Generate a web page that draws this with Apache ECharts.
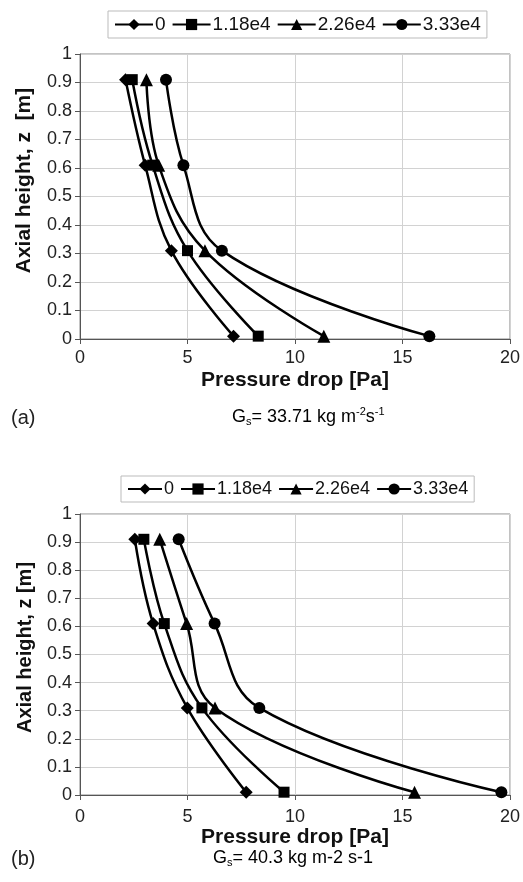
<!DOCTYPE html>
<html><head><meta charset="utf-8">
<script src="https://cdn.jsdelivr.net/npm/echarts@6/dist/echarts.min.js"></script>
<style>html,body{margin:0;padding:0;background:#fff}#c{width:523px;height:882px}</style>
</head><body><div id="c"></div>
<script>
// ---- data ----
const seriesNames = ['0', '1.18e4', '2.26e4', '3.33e4'];
const symbols = ['diamond', 'rect', 'triangle', 'circle'];
const zLevels = [0.01, 0.31, 0.61, 0.91];
// panel (a) Gs = 33.71
const a_0    = [7.14, 4.25, 3.03, 2.12];
const a_118  = [8.29, 5.00, 3.38, 2.43];
const a_226  = [11.34, 5.81, 3.66, 3.09];
const a_333  = [16.25, 6.60, 4.81, 4.00];
// panel (b) Gs = 40.3
const b_0    = [7.73, 4.99, 3.40, 2.55];
const b_118  = [9.49, 5.67, 3.92, 2.97];
const b_226  = [15.56, 6.28, 4.96, 3.71];
const b_333  = [19.60, 8.34, 6.26, 4.59];
const xTicks = [0, 5, 10, 15, 20];
const yTicks = [0, 0.1, 0.2, 0.3, 0.4, 0.5, 0.6, 0.7, 0.8, 0.9, 1];

const panelA = [a_0, a_118, a_226, a_333];
const panelB = [b_0, b_118, b_226, b_333];

const FONT = 'Liberation Sans';
const chart = echarts.init(document.getElementById('c'), null, {renderer: 'canvas'});
const symSize = {diamond: 13, rect: 11, triangle: 13, circle: 12};

function mkSeries(panel, idx) {
  return panel.map((vals, i) => ({
    name: seriesNames[i],
    type: 'line',
    xAxisIndex: idx, yAxisIndex: idx,
    smooth: 0.4,
    symbol: symbols[i],
    symbolSize: symSize[symbols[i]],
    lineStyle: {color: '#000', width: 2.5},
    itemStyle: {color: '#000'},
    data: vals.map((v, k) => [v, zLevels[k]])
  }));
}

function mkX(idx) {
  return {
    type: 'value', gridIndex: idx, min: xTicks[0], max: xTicks[xTicks.length - 1], interval: 5,
    name: 'Pressure drop [Pa]', nameLocation: 'middle', nameGap: 31,
    nameTextStyle: {fontFamily: FONT, fontSize: 21, fontWeight: 'bold', color: '#111'},
    axisLine: {show: true, lineStyle: {color: '#555', width: 1}},
    axisTick: {show: true, inside: false, length: 5, lineStyle: {color: '#555'}},
    axisLabel: {fontFamily: FONT, fontSize: 18, color: '#222', margin: idx === 0 ? 10 : 13},
    splitLine: {show: true, lineStyle: {color: '#d2d2d2', width: 1}}
  };
}
function mkY(idx, name, size, shift) {
  return {
    type: 'value', gridIndex: idx, min: 0, max: 1, interval: 0.1,
    name: name, nameLocation: 'middle', nameGap: 45, nameRotate: 90,
    nameTextStyle: {fontFamily: FONT, fontSize: size, fontWeight: 'bold', color: '#111',
      padding: [0, 0, 0, shift]},
    axisLine: {show: true, lineStyle: {color: '#555', width: 1}},
    axisTick: {show: true, inside: false, length: 5, lineStyle: {color: '#555'}},
    axisLabel: {fontFamily: FONT, fontSize: 18, color: '#222', margin: 8,
      formatter: v => String(+v.toFixed(1))},
    splitLine: {show: true, lineStyle: {color: '#d2d2d2', width: 1}}
  };
}
function mkLegend(left, top, fs, w) {
  return {
    show: true, left: left, top: top, orient: 'horizontal',
    data: seriesNames, itemWidth: w, itemHeight: 14, itemGap: 6,
    padding: [4, 6], borderColor: '#bbb', borderWidth: 1, backgroundColor: '#fff',
    textStyle: {fontFamily: FONT, fontSize: fs, color: '#111', padding: [0, 0, 0, -3]},
    selectedMode: false
  };
}

const subRich = {
  n: {fontFamily: FONT, fontSize: 18, color: '#222'},
  sub: {fontFamily: FONT, fontSize: 11, color: '#222', padding: [10, 0, 0, 0]},
  sup: {fontFamily: FONT, fontSize: 11, color: '#222', padding: [0, 0, 10, 0]}
};

const option = {
  backgroundColor: '#fff',
  animation: false,
  legend: [mkLegend(108, 11, 19, 38), mkLegend(121, 476, 18, 34)],
  grid: [
    {left: 80, right: 9, top: 54, height: 285, show: true, borderColor: '#888', borderWidth: 1, containLabel: false},
    {left: 80, right: 6, top: 514, height: 281, show: true, borderColor: '#888', borderWidth: 1, containLabel: false}
  ],
  xAxis: [mkX(0), mkX(1)],
  yAxis: [mkY(0, 'Axial height, z  [m]', 21, 32), mkY(1, 'Axial height, z [m]', 20, 14)],
  series: mkSeries(panelA, 0).concat(mkSeries(panelB, 1)),
  graphic: [
    {type: 'text', x: 11, y: 418, style: {text: '(a)', font: '20px "Liberation Sans"', fill: '#222', verticalAlign: 'middle'}},
    {type: 'text', x: 11, y: 859, style: {text: '(b)', font: '20px "Liberation Sans"', fill: '#222', verticalAlign: 'middle'}},
    {type: 'text', x: 232, y: 417, style: {
      text: '{n|G}{sub|s}{n|= 33.71 kg m}{sup|-2}{n|s}{sup|-1}', rich: subRich, verticalAlign: 'middle'}},
    {type: 'text', x: 213, y: 858, style: {
      text: '{n|G}{sub|s}{n|= 40.3 kg m-2 s-1}', rich: subRich, verticalAlign: 'middle'}}
  ]
};
chart.setOption(option);
</script>
</body></html>
